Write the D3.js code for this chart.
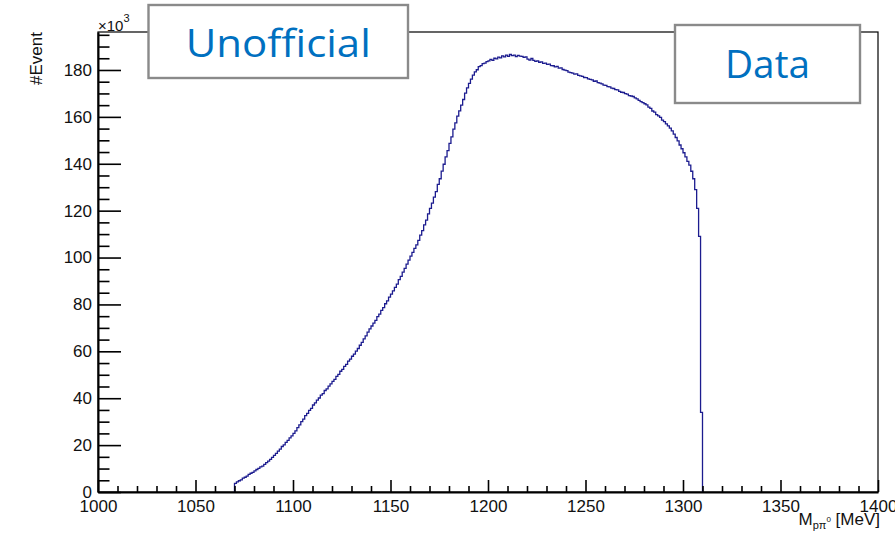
<!DOCTYPE html>
<html>
<head>
<meta charset="utf-8">
<script src="https://cdn.jsdelivr.net/npm/d3@7"></script>
<style>
  body { margin: 0; background: #fff; }
  svg { display: block; }
</style>
</head>
<body>
<svg id="chart" width="895" height="533"></svg>
<script>
// Invariant-mass histogram, 1 MeV bins, contents in units of 10^3 events
const firstBinEdge = 1070;
const binWidth = 1;
const eventsK = [
  3.7, 4.3, 4.8, 5.2, 5.9, 6.3, 6.8, 7.5, 8.0, 8.4,
  9.0, 9.6, 10.1, 10.7, 11.0, 11.8, 12.5, 13.2, 13.9, 14.8,
  15.6, 16.5, 17.4, 18.3, 19.4, 20.1, 21.2, 22.0, 23.1, 23.9,
  25.0, 26.1, 27.5, 28.6, 30.0, 31.1, 32.6, 33.5, 34.8, 35.7,
  37.1, 38.0, 39.2, 40.1, 41.3, 42.0, 43.3, 44.0, 45.2, 46.1,
  47.2, 48.0, 49.3, 50.2, 51.5, 52.3, 53.6, 54.4, 55.8, 56.7,
  57.9, 58.8, 60.1, 61.2, 62.6, 63.8, 65.3, 66.6, 68.2, 69.6,
  70.8, 72.0, 73.2, 74.8, 75.9, 77.5, 78.6, 80.3, 81.5, 83.1,
  84.4, 85.8, 87.3, 88.7, 90.6, 92.0, 93.8, 95.4, 97.2, 98.9,
  100.6, 102.2, 103.9, 105.4, 107.3, 109.6, 111.5, 113.9, 116.0, 118.6,
  121.0, 123.2, 125.8, 128.1, 131.2, 133.6, 136.9, 139.8, 142.9, 145.6,
  148.7, 151.5, 154.8, 157.4, 160.3, 162.6, 165.0, 167.4, 170.1, 172.4,
  174.3, 176.1, 177.8, 179.2, 180.1, 181.4, 181.9, 182.7, 182.9, 183.6,
  183.9, 184.5, 184.1, 185.0, 184.7, 185.5, 185.2, 186.0, 185.6, 186.3,
  185.8, 186.6, 186.1, 186.3, 185.7, 186.2, 185.9, 185.8, 185.4, 185.6,
  184.6, 184.2, 184.9, 184.1, 183.7, 183.9, 183.3, 183.5, 182.8, 182.9,
  182.4, 182.5, 181.9, 181.8, 181.3, 181.5, 180.8, 180.9, 180.2, 179.9,
  179.7, 179.1, 178.9, 178.7, 178.2, 178.3, 177.7, 177.5, 177.3, 176.8,
  176.7, 176.2, 176.0, 175.8, 175.2, 175.3, 174.6, 174.4, 174.1, 173.5,
  173.4, 172.9, 172.8, 172.3, 172.1, 171.6, 171.5, 170.9, 170.5, 170.4,
  169.9, 169.7, 169.1, 168.9, 168.7, 168.1, 167.7, 167.0, 166.5, 166.1,
  165.6, 165.1, 164.2, 163.6, 162.5, 162.0, 161.0, 160.4, 159.8, 158.6,
  158.0, 157.0, 156.2, 155.2, 154.0, 152.6, 151.2, 149.8, 148.0, 146.4,
  144.7, 142.9, 141.0, 139.4, 136.8, 133.6, 129.0, 121.0, 109.0, 34.0
];

const xRange = [1000, 1400];
const yRange = [0, 196.2];
const xMajorTicks = [1000, 1050, 1100, 1150, 1200, 1250, 1300, 1350, 1400];
const yMajorTicks = [0, 20, 40, 60, 80, 100, 120, 140, 160, 180];
const xMinorStep = 10;
const yMinorStep = 5;
const yTitle = "#Event";
const yScaleLabel = ["\u00d710", "3"];
const xTitle = { main: "M", sub: "p\u03c0", sup: "0", unit: " [MeV]" };
const stamps = ["Unofficial", "Data"];

const svg = d3.select("#chart");
const frame = { left: 98, right: 878, top: 32, bottom: 492 };
const font = "'Liberation Sans', Arial, Helvetica, sans-serif";

const x = d3.scaleLinear().domain(xRange).range([frame.left, frame.right]);
const y = d3.scaleLinear().domain(yRange).range([frame.bottom, frame.top]);

// frame
svg.append("rect")
  .attr("x", frame.left).attr("y", frame.top)
  .attr("width", frame.right - frame.left).attr("height", frame.bottom - frame.top)
  .attr("fill", "none").attr("stroke", "#000").attr("stroke-width", 1.2);

// histogram as a step line
const pts = [[firstBinEdge, 0]];
eventsK.forEach((v, i) => pts.push([firstBinEdge + i * binWidth, v]));
pts.push([firstBinEdge + eventsK.length * binWidth, 0]);
const line = d3.line().x(d => x(d[0])).y(d => y(d[1])).curve(d3.curveStepAfter);
svg.append("path")
  .attr("d", line(pts))
  .attr("fill", "none")
  .attr("stroke", "#1c1c8f")
  .attr("stroke-width", 1.3)
  .attr("stroke-linejoin", "miter");

// minor ticks
const xMinor = d3.range(xRange[0], xRange[1] + 0.001, xMinorStep).filter(v => !xMajorTicks.includes(v));
const yMinor = d3.range(0, yRange[1], yMinorStep).filter(v => !yMajorTicks.includes(v));

const gx = svg.append("g").attr("transform", `translate(0,${frame.bottom})`);
gx.call(d3.axisBottom(x).tickValues(xMinor).tickFormat("").tickSizeInner(-6).tickSizeOuter(0));
gx.call(g => g.select(".domain").remove());
const gx2 = svg.append("g").attr("transform", `translate(0,${frame.bottom})`);
gx2.call(d3.axisBottom(x).tickValues(xMajorTicks).tickFormat(d3.format("d")).tickSizeInner(-12).tickSizeOuter(0).tickPadding(8));
gx2.select(".domain").attr("stroke-width", 2);

const gy = svg.append("g").attr("transform", `translate(${frame.left},0)`);
gy.call(d3.axisLeft(y).tickValues(yMinor).tickFormat("").tickSizeInner(-11.5).tickSizeOuter(0));
gy.call(g => g.select(".domain").remove());
const gy2 = svg.append("g").attr("transform", `translate(${frame.left},0)`);
gy2.call(d3.axisLeft(y).tickValues(yMajorTicks).tickFormat(d3.format("d")).tickSizeInner(-23).tickSizeOuter(0).tickPadding(6));
gy2.select(".domain").attr("stroke-width", 2);

svg.selectAll(".tick line").attr("stroke", "#000").attr("stroke-width", 1.6);
svg.selectAll(".tick text").attr("font-family", font).attr("font-size", 17).attr("fill", "#111");

// axis titles
svg.append("text")
  .attr("transform", `translate(42,${frame.top}) rotate(-90)`)
  .attr("text-anchor", "end")
  .attr("font-family", font).attr("font-size", 17).attr("fill", "#111")
  .text(yTitle);

const sc = svg.append("text")
  .attr("x", frame.left).attr("y", 30.5)
  .attr("font-family", font).attr("font-size", 15).attr("fill", "#111");
sc.append("tspan").text(yScaleLabel[0]);
sc.append("tspan").attr("font-size", 11).attr("dy", -9).text(yScaleLabel[1]);

const xt = svg.append("text")
  .attr("x", 880).attr("y", 525)
  .attr("text-anchor", "end")
  .attr("font-family", font).attr("font-size", 17).attr("fill", "#111");
xt.append("tspan").text(xTitle.main);
xt.append("tspan").attr("font-size", 11).attr("dy", 4).text(xTitle.sub);
xt.append("tspan").attr("font-size", 8).attr("dy", -7).text(xTitle.sup);
xt.append("tspan").attr("dy", 3).text(xTitle.unit);

// stamp boxes
const boxes = [
  { x0: 148.5, y0: 5, x1: 408, y1: 78, base: 56.5, w: 185 },
  { x0: 675, y0: 25, x1: 860, y1: 103, base: 78, w: 85 }
];
boxes.forEach((b, i) => {
  svg.append("rect")
    .attr("x", b.x0).attr("y", b.y0)
    .attr("width", b.x1 - b.x0).attr("height", b.y1 - b.y0)
    .attr("fill", "#fff").attr("stroke", "#8a8a8a").attr("stroke-width", 2.4);
  svg.append("text")
    .attr("x", (b.x0 + b.x1) / 2).attr("y", b.base)
    .attr("text-anchor", "middle")
    .attr("font-family", "'Open Sans', 'Noto Sans', sans-serif")
    .attr("font-size", 39)
    .attr("fill", "#0070c0")
    .attr("textLength", b.w).attr("lengthAdjust", "spacingAndGlyphs")
    .text(stamps[i]);
});
</script>
</body>
</html>
